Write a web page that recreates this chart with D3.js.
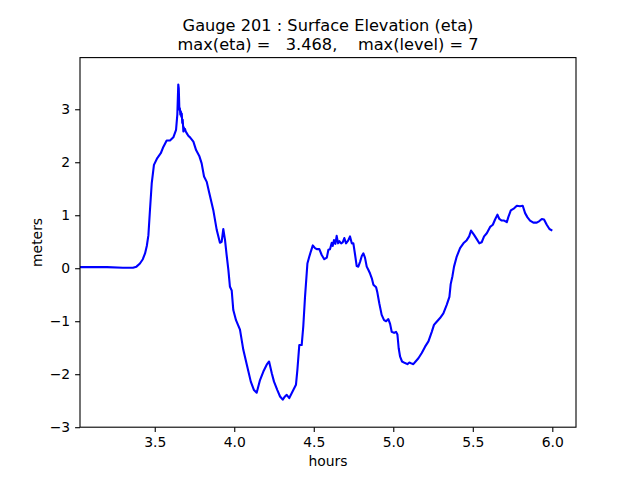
<!DOCTYPE html>
<html>
<head>
<meta charset="utf-8">
<script src="https://cdn.jsdelivr.net/npm/d3@7"></script>
<style>
  html, body { margin: 0; padding: 0; background: #fff; }
  svg { display: block; font-family: "DejaVu Sans", sans-serif; }
  .title { white-space: pre; }
</style>
</head>
<body>
<svg id="chart" width="640" height="480"></svg>
<script>
// ---- data (hours, eta in meters) ----
const hours = [3.030, 3.10, 3.20, 3.30, 3.363, 3.385, 3.407, 3.425, 3.439, 3.450, 3.460, 3.470, 3.481, 3.495, 3.516,
  3.538, 3.554, 3.575, 3.596, 3.617, 3.634, 3.642, 3.648, 3.651, 3.655, 3.658, 3.661, 3.664, 3.667, 3.670, 3.673, 3.676,
  3.680, 3.683, 3.686, 3.690, 3.695, 3.701, 3.711, 3.722, 3.743, 3.760, 3.780, 3.795, 3.810, 3.827, 3.843, 3.868, 3.890,
  3.910, 3.921, 3.931, 3.942, 3.952, 3.963, 3.973, 3.984, 3.994, 4.011, 4.036, 4.057, 4.082, 4.104, 4.124, 4.141,
  4.162, 4.183, 4.204, 4.219, 4.236, 4.250, 4.271, 4.288, 4.305, 4.319, 4.330, 4.346, 4.361, 4.388, 4.397, 4.409,
  4.424, 4.434, 4.445, 4.460, 4.472, 4.481, 4.494, 4.508, 4.519, 4.535, 4.550, 4.566, 4.582, 4.592, 4.602, 4.613,
  4.619, 4.627, 4.636, 4.644, 4.653, 4.661, 4.672, 4.682, 4.692, 4.703, 4.716, 4.728, 4.739, 4.749, 4.760, 4.770,
  4.780, 4.791, 4.802, 4.812, 4.822, 4.833, 4.843, 4.854, 4.865, 4.875, 4.892, 4.900, 4.912, 4.927, 4.942, 4.955,
  4.969, 4.980, 4.990, 5.005, 5.017, 5.026, 5.034, 5.043, 5.055, 5.074, 5.089, 5.101, 5.116, 5.126, 5.143, 5.158,
  5.179, 5.200, 5.221, 5.242, 5.256, 5.273, 5.294, 5.315, 5.336, 5.353, 5.361, 5.372, 5.382, 5.399, 5.420, 5.441,
  5.462, 5.477, 5.489, 5.508, 5.525, 5.541, 5.556, 5.571, 5.588, 5.609, 5.626, 5.640, 5.655, 5.667, 5.682, 5.697,
  5.714, 5.724, 5.739, 5.760, 5.777, 5.797, 5.814, 5.829, 5.844, 5.860, 5.881, 5.902, 5.919, 5.934, 5.948, 5.965,
  5.982, 6.000];
const eta = [0.02, 0.02, 0.02, 0.01, 0.01, 0.03, 0.09, 0.17, 0.28, 0.42, 0.62, 1.10, 1.60, 1.95, 2.08,
  2.17, 2.29, 2.41, 2.41, 2.47, 2.61, 2.90, 3.468, 3.40, 2.99, 3.02, 2.90, 2.96, 2.86, 2.92, 2.74, 2.80,
  2.58, 2.66, 2.60, 2.63, 2.58, 2.55, 2.50, 2.47, 2.39, 2.23, 2.12, 1.98, 1.73, 1.63, 1.42, 1.10, 0.72,
  0.48, 0.50, 0.74, 0.53, 0.25, -0.03, -0.35, -0.42, -0.79, -0.98, -1.16, -1.54, -1.86, -2.14, -2.30, -2.35,
  -2.11, -1.95, -1.82, -1.76, -1.98, -2.14, -2.30, -2.42, -2.48, -2.42, -2.39, -2.45, -2.36, -2.20, -1.92, -1.45,
  -1.45, -1.10, -0.54, 0.09, 0.22, 0.31, 0.43, 0.38, 0.36, 0.36, 0.25, 0.17, 0.20, 0.35, 0.36, 0.48,
  0.42, 0.53, 0.46, 0.61, 0.47, 0.51, 0.47, 0.49, 0.57, 0.47, 0.52, 0.60, 0.47, 0.47, 0.25, 0.04,
  0.03, 0.12, 0.23, 0.28, 0.20, 0.03, -0.03, -0.10, -0.19, -0.31, -0.36, -0.46, -0.66, -0.88, -0.98, -1.00,
  -0.96, -1.05, -1.20, -1.22, -1.20, -1.25, -1.51, -1.67, -1.76, -1.79, -1.81, -1.78, -1.80, -1.81, -1.75, -1.70,
  -1.60, -1.48, -1.38, -1.20, -1.07, -1.01, -0.94, -0.85, -0.69, -0.54, -0.30, -0.15, 0.03, 0.22, 0.38, 0.47,
  0.53, 0.60, 0.71, 0.63, 0.55, 0.47, 0.49, 0.60, 0.66, 0.78, 0.82, 0.92, 1.01, 0.93, 0.90, 0.90,
  0.87, 0.97, 1.09, 1.13, 1.18, 1.17, 1.18, 1.04, 0.96, 0.90, 0.86, 0.86, 0.89, 0.93, 0.92, 0.82,
  0.74, 0.71];
const xTicks = [3.5, 4.0, 4.5, 5.0, 5.5, 6.0];
const yTicks = [-3, -2, -1, 0, 1, 2, 3];
const titleLines = ["Gauge 201 : Surface Elevation (eta)", "max(eta) =   3.468,    max(level) = 7"];
const xLabel = "hours";
const yLabel = "meters";

// ---- layout ----
const svg = d3.select("#chart");
const L = 80, R = 576, T = 57.6, B = 427.2;
const x = d3.scaleLinear().domain([3.03, 6.149]).range([L, R]);
const y = d3.scaleLinear().domain([-3.0, 3.975]).range([B, T]);

const pts = hours.map((h, i) => [h, eta[i]]);

svg.append("defs").append("clipPath").attr("id", "clip")
  .append("rect").attr("x", L).attr("y", T).attr("width", R - L).attr("height", B - T);

svg.append("path")
  .datum(pts)
  .attr("clip-path", "url(#clip)")
  .attr("fill", "none")
  .attr("stroke", "#0000ff")
  .attr("stroke-width", 2.1)
  .attr("stroke-linejoin", "round")
  .attr("stroke-linecap", "butt")
  .attr("d", d3.line().x(d => x(d[0])).y(d => y(d[1])));

// axes
const xAxis = d3.axisBottom(x).tickValues(xTicks).tickFormat(d3.format(".1f")).tickSize(4.9).tickPadding(4.9);
const yAxis = d3.axisLeft(y).tickValues(yTicks).tickFormat(d3.format("d")).tickSize(4.9).tickPadding(4.9);

const gx = svg.append("g").attr("transform", `translate(0,${B})`).call(xAxis);
const gy = svg.append("g").attr("transform", `translate(${L},0)`).call(yAxis);
[gx, gy].forEach(g => {
  g.select(".domain").remove();
  g.selectAll(".tick line").attr("stroke", "#000").attr("stroke-width", 1.1);
  g.selectAll(".tick text").attr("font-family", "DejaVu Sans").attr("font-size", 13.9).attr("fill", "#000");
});

// frame
svg.append("rect").attr("x", L).attr("y", T).attr("width", R - L).attr("height", B - T)
  .attr("fill", "none").attr("stroke", "#000").attr("stroke-width", 1.1);

// labels
svg.append("text").attr("x", (L + R) / 2).attr("y", 466).attr("text-anchor", "middle")
  .attr("font-size", 13.9).text(xLabel);
svg.append("text").attr("transform", `translate(42,${(T + B) / 2}) rotate(-90)`).attr("text-anchor", "middle")
  .attr("font-size", 13.9).text(yLabel);

// title (one text element, two lines)
const title = svg.append("text").attr("class", "title").attr("text-anchor", "middle").attr("font-size", 16.2);
titleLines.forEach((t, i) => {
  title.append("tspan").attr("x", (L + R) / 2).attr("y", 30.8 + i * 18.9).text(t);
});
</script>
</body>
</html>
